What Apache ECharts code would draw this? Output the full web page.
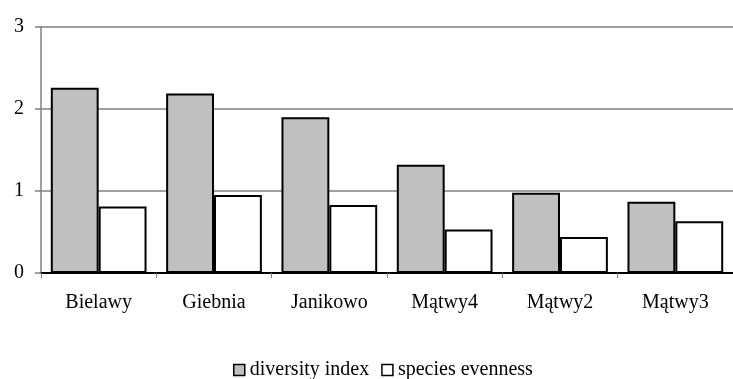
<!DOCTYPE html>
<html>
<head>
<meta charset="utf-8">
<script src="https://cdn.jsdelivr.net/npm/echarts@6/dist/echarts.min.js"></script>
<style>
  html, body { margin: 0; padding: 0; background: #fff; }
  #chart { width: 733px; height: 379px; }
</style>
</head>
<body>
<div id="chart"></div>
<script>
// Sampling sites along the x axis
const sites = ['Bielawy', 'Giebnia', 'Janikowo', 'Mątwy4', 'Mątwy2', 'Mątwy3'];
// Shannon diversity index per site
const diversityIndex = [2.26, 2.19, 1.90, 1.32, 0.98, 0.87];
// Pielou species evenness per site
const speciesEvenness = [0.81, 0.95, 0.83, 0.53, 0.44, 0.63];
// Value axis ticks
const yTicks = [0, 1, 2, 3];

const FONT = '"Liberation Serif", "DejaVu Serif", serif';

const chart = echarts.init(document.getElementById('chart'), null, { renderer: 'canvas' });

chart.setOption({
  animation: false,
  backgroundColor: '#ffffff',
  textStyle: { fontFamily: FONT, color: '#000' },
  grid: { left: 41, top: 27, height: 246, width: 699, containLabel: false },
  legend: {
    left: 228,
    top: 355,
    itemWidth: 11,
    itemHeight: 11,
    itemGap: 12,
    icon: 'rect',
    textStyle: { fontFamily: FONT, fontSize: 20, color: '#000' },
    data: [
      { name: 'diversity index', itemStyle: { color: '#c0c0c0', borderColor: '#000', borderWidth: 1.5 } },
      { name: 'species evenness', itemStyle: { color: '#ffffff', borderColor: '#000', borderWidth: 1.5 } }
    ]
  },
  xAxis: {
    type: 'category',
    data: sites,
    boundaryGap: true,
    axisLine: { show: true, lineStyle: { color: '#000', width: 2 } },
    axisTick: { show: true, alignWithLabel: false, length: 5, lineStyle: { color: '#808080', width: 1 } },
    axisLabel: { margin: 20, fontFamily: FONT, fontSize: 20, color: '#000' },
    splitLine: { show: false }
  },
  yAxis: {
    type: 'value',
    min: yTicks[0],
    max: yTicks[yTicks.length - 1],
    interval: 1,
    axisLine: { show: true, lineStyle: { color: '#808080', width: 1.5 } },
    axisTick: { show: true, inside: false, length: 6, lineStyle: { color: '#808080', width: 1.5 } },
    axisLabel: { margin: 17, fontFamily: FONT, fontSize: 20, color: '#000' },
    splitLine: { show: true, lineStyle: { color: '#808080', width: 1.5 } }
  },
  series: [
    {
      name: 'diversity index',
      type: 'bar',
      data: diversityIndex,
      barGap: '0%',
      barCategoryGap: '17%',
      itemStyle: { color: '#c0c0c0', borderColor: '#000', borderWidth: 2 }
    },
    {
      name: 'species evenness',
      type: 'bar',
      data: speciesEvenness,
      barGap: '0%',
      barCategoryGap: '17%',
      itemStyle: { color: '#ffffff', borderColor: '#000', borderWidth: 2 }
    }
  ]
});
</script>
</body>
</html>
